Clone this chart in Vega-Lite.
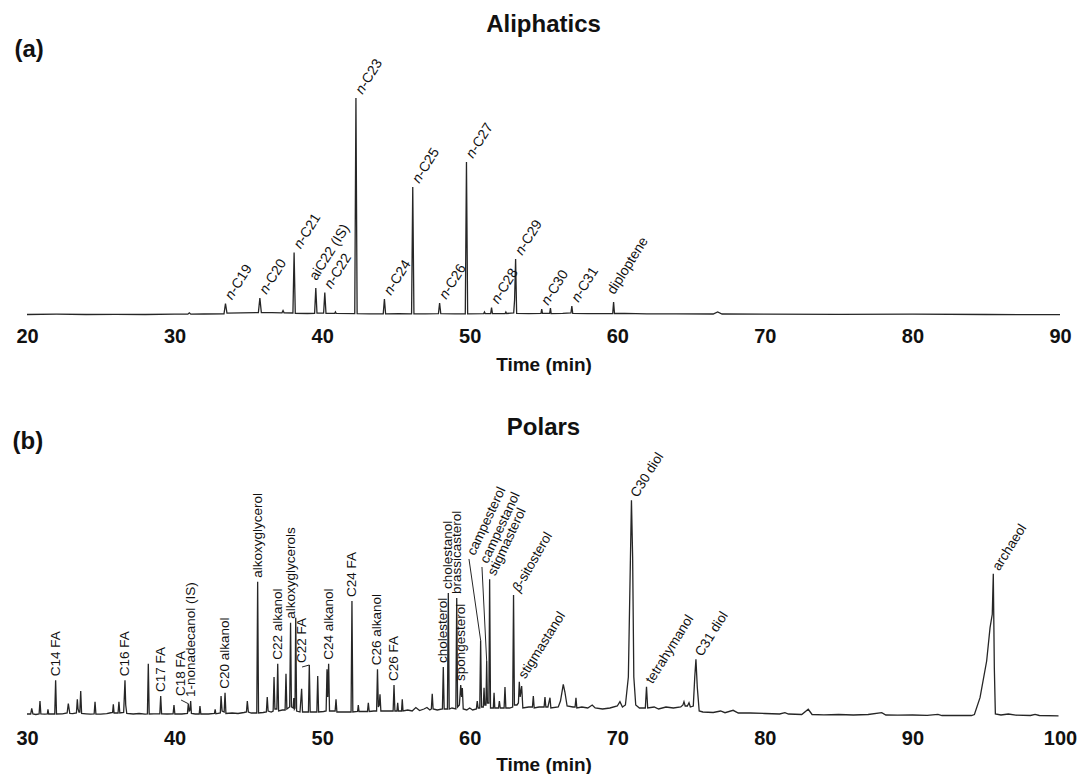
{
  "$schema": "https://vega.github.io/schema/vega-lite/v6.json",
  "background": "white",
  "padding": {"left": 12, "top": 13, "right": 0, "bottom": 0},
  "bounds": "flush",
  "spacing": 141,
  "config": {
    "view": {"stroke": null},
    "font": "Liberation Sans",
    "axis": {"labelColor": "#111", "titleColor": "#111", "grid": false}
  },
  "datasets": {
    "aliphaticTrace": [
      {"t": 20, "v": 1.5}, {"t": 22, "v": 1.8}, {"t": 24, "v": 1.5}, {"t": 26, "v": 1.7}, {"t": 28, "v": 1.5},
      {"t": 30, "v": 1.8}, {"t": 30.9, "v": 1.8}, {"t": 31.0, "v": 3.2}, {"t": 31.1, "v": 1.8}, {"t": 32, "v": 2},
      {"t": 33.35, "v": 2.2}, {"t": 33.45, "v": 12.5}, {"t": 33.55, "v": 2.8}, {"t": 34.5, "v": 3.2},
      {"t": 35.68, "v": 3.5}, {"t": 35.78, "v": 18}, {"t": 35.88, "v": 3.5}, {"t": 36.6, "v": 3.3},
      {"t": 37.28, "v": 3.2}, {"t": 37.35, "v": 5.5}, {"t": 37.42, "v": 3.2},
      {"t": 38.02, "v": 3}, {"t": 38.10, "v": 63.5}, {"t": 38.18, "v": 2.6}, {"t": 39.0, "v": 2.5},
      {"t": 39.49, "v": 2.6}, {"t": 39.57, "v": 28}, {"t": 39.65, "v": 2.8},
      {"t": 40.10, "v": 2.8}, {"t": 40.18, "v": 23.5}, {"t": 40.26, "v": 2.6},
      {"t": 40.85, "v": 2.6}, {"t": 40.9, "v": 4}, {"t": 40.95, "v": 2.6},
      {"t": 42.21, "v": 2.4}, {"t": 42.29, "v": 218}, {"t": 42.37, "v": 2.4}, {"t": 43.2, "v": 2.2},
      {"t": 44.14, "v": 2.2}, {"t": 44.22, "v": 17}, {"t": 44.30, "v": 2.2}, {"t": 45.2, "v": 2.4},
      {"t": 46.06, "v": 2.2}, {"t": 46.14, "v": 129}, {"t": 46.22, "v": 2.2}, {"t": 47.0, "v": 2.2},
      {"t": 47.88, "v": 2.3}, {"t": 47.96, "v": 13}, {"t": 48.04, "v": 2.3}, {"t": 49.0, "v": 2.2},
      {"t": 49.70, "v": 2.2}, {"t": 49.78, "v": 154}, {"t": 49.86, "v": 2.2},
      {"t": 50.95, "v": 2.4}, {"t": 51.0, "v": 4}, {"t": 51.05, "v": 2.4},
      {"t": 51.42, "v": 2.4}, {"t": 51.48, "v": 8.5}, {"t": 51.54, "v": 2.4},
      {"t": 52.4, "v": 2.5}, {"t": 52.45, "v": 4}, {"t": 52.5, "v": 2.5},
      {"t": 52.98, "v": 3}, {"t": 53.04, "v": 16}, {"t": 53.11, "v": 57}, {"t": 53.18, "v": 2.6}, {"t": 54.0, "v": 2.4},
      {"t": 54.83, "v": 2.6}, {"t": 54.88, "v": 7}, {"t": 54.93, "v": 2.6},
      {"t": 55.42, "v": 2.6}, {"t": 55.47, "v": 8}, {"t": 55.52, "v": 2.4}, {"t": 56.3, "v": 2.6},
      {"t": 56.86, "v": 3}, {"t": 56.92, "v": 10}, {"t": 56.98, "v": 2.6}, {"t": 58.0, "v": 2.4}, {"t": 59.0, "v": 2.4},
      {"t": 59.69, "v": 2.5}, {"t": 59.75, "v": 14}, {"t": 59.81, "v": 2.5}, {"t": 60.5, "v": 2.6},
      {"t": 62, "v": 2.2}, {"t": 64, "v": 2.1}, {"t": 66.5, "v": 2.0}, {"t": 66.8, "v": 4}, {"t": 67.1, "v": 2.0},
      {"t": 70, "v": 1.8}, {"t": 75, "v": 1.6}, {"t": 80, "v": 1.8}, {"t": 85, "v": 1.5}, {"t": 90, "v": 1.4}
    ],
    "aliphaticPeaks": [
      {"pre": "n", "name": "-C19", "t": 33.45, "v": 12.5},
      {"pre": "n", "name": "-C20", "t": 35.78, "v": 18},
      {"pre": "n", "name": "-C21", "t": 38.10, "v": 63.5},
      {"name": "aiC22 (IS)", "t": 39.57, "v": 28},
      {"pre": "n", "name": "-C22", "t": 40.18, "v": 23.5},
      {"pre": "n", "name": "-C23", "t": 42.29, "v": 218},
      {"pre": "n", "name": "-C24", "t": 44.22, "v": 17},
      {"pre": "n", "name": "-C25", "t": 46.14, "v": 129},
      {"pre": "n", "name": "-C26", "t": 47.96, "v": 13},
      {"pre": "n", "name": "-C27", "t": 49.78, "v": 154},
      {"pre": "n", "name": "-C28", "t": 51.48, "v": 8.5},
      {"pre": "n", "name": "-C29", "t": 53.11, "v": 57},
      {"pre": "n", "name": "-C30", "t": 54.88, "v": 7},
      {"pre": "n", "name": "-C31", "t": 56.92, "v": 10},
      {"name": "diploptene", "t": 59.75, "v": 14}
    ],
    "polarTrace": [
      {"t": 30.0, "v": 3}, {"t": 30.25, "v": 3}, {"t": 30.32, "v": 8.7}, {"t": 30.4, "v": 3}, {"t": 30.6, "v": 2.5},
      {"t": 30.82, "v": 3}, {"t": 30.88, "v": 16}, {"t": 30.94, "v": 3}, {"t": 31.2, "v": 2.8},
      {"t": 31.38, "v": 3}, {"t": 31.42, "v": 7.7}, {"t": 31.47, "v": 3}, {"t": 31.7, "v": 3.2},
      {"t": 31.88, "v": 3}, {"t": 31.94, "v": 36.7}, {"t": 32.0, "v": 3}, {"t": 32.4, "v": 3.2},
      {"t": 32.72, "v": 4}, {"t": 32.80, "v": 13.3}, {"t": 32.9, "v": 3.5}, {"t": 33.1, "v": 3.3},
      {"t": 33.35, "v": 4}, {"t": 33.41, "v": 17.7}, {"t": 33.46, "v": 8}, {"t": 33.52, "v": 5}, {"t": 33.58, "v": 5},
      {"t": 33.64, "v": 26}, {"t": 33.7, "v": 3.5}, {"t": 34.0, "v": 3.2}, {"t": 34.3, "v": 2.8},
      {"t": 34.55, "v": 3}, {"t": 34.61, "v": 15.3}, {"t": 34.67, "v": 3}, {"t": 35.0, "v": 2.8},
      {"t": 35.4, "v": 3.3}, {"t": 35.6, "v": 4}, {"t": 35.8, "v": 4.5}, {"t": 35.85, "v": 12.7}, {"t": 35.9, "v": 4},
      {"t": 36.17, "v": 4}, {"t": 36.23, "v": 15.3}, {"t": 36.29, "v": 4}, {"t": 36.55, "v": 4.5},
      {"t": 36.64, "v": 36.7}, {"t": 36.69, "v": 12}, {"t": 36.76, "v": 3.5}, {"t": 37.2, "v": 3},
      {"t": 37.6, "v": 3.5}, {"t": 38.0, "v": 2.8}, {"t": 38.16, "v": 3}, {"t": 38.22, "v": 53.3}, {"t": 38.28, "v": 3},
      {"t": 38.6, "v": 3.2}, {"t": 39.0, "v": 3.2}, {"t": 39.06, "v": 21}, {"t": 39.12, "v": 3.2},
      {"t": 39.5, "v": 3}, {"t": 39.9, "v": 3.2}, {"t": 39.96, "v": 12}, {"t": 40.02, "v": 3},
      {"t": 40.5, "v": 3}, {"t": 40.87, "v": 3.5}, {"t": 40.93, "v": 13.3}, {"t": 40.99, "v": 6}, {"t": 41.05, "v": 7},
      {"t": 41.09, "v": 16}, {"t": 41.14, "v": 3.5}, {"t": 41.4, "v": 3}, {"t": 41.67, "v": 3}, {"t": 41.72, "v": 11},
      {"t": 41.78, "v": 3}, {"t": 42.3, "v": 3}, {"t": 42.7, "v": 3.5}, {"t": 42.75, "v": 7.7}, {"t": 42.8, "v": 3.2},
      {"t": 43.1, "v": 4}, {"t": 43.15, "v": 21}, {"t": 43.22, "v": 6}, {"t": 43.36, "v": 5}, {"t": 43.42, "v": 24.3},
      {"t": 43.48, "v": 3.5}, {"t": 43.9, "v": 4}, {"t": 44.3, "v": 3.5}, {"t": 44.7, "v": 4.5}, {"t": 44.87, "v": 5},
      {"t": 44.93, "v": 16}, {"t": 45.0, "v": 5}, {"t": 45.2, "v": 4}, {"t": 45.57, "v": 4}, {"t": 45.63, "v": 135.3},
      {"t": 45.69, "v": 4}, {"t": 46.0, "v": 4.5}, {"t": 46.22, "v": 5}, {"t": 46.28, "v": 20}, {"t": 46.34, "v": 6},
      {"t": 46.55, "v": 5}, {"t": 46.68, "v": 6}, {"t": 46.74, "v": 40}, {"t": 46.8, "v": 8}, {"t": 46.93, "v": 8},
      {"t": 46.99, "v": 53.3}, {"t": 47.05, "v": 6}, {"t": 47.3, "v": 7}, {"t": 47.49, "v": 7}, {"t": 47.55, "v": 43.3},
      {"t": 47.61, "v": 8}, {"t": 47.8, "v": 10}, {"t": 47.86, "v": 94.3}, {"t": 47.92, "v": 10}, {"t": 48.03, "v": 9},
      {"t": 48.08, "v": 19}, {"t": 48.12, "v": 8}, {"t": 48.16, "v": 9}, {"t": 48.21, "v": 99.3}, {"t": 48.27, "v": 6},
      {"t": 48.5, "v": 5}, {"t": 48.61, "v": 28.3}, {"t": 48.67, "v": 5}, {"t": 49.0, "v": 5}, {"t": 49.07, "v": 5},
      {"t": 49.13, "v": 52}, {"t": 49.19, "v": 5}, {"t": 49.5, "v": 5}, {"t": 49.64, "v": 5}, {"t": 49.70, "v": 41},
      {"t": 49.76, "v": 5}, {"t": 50.1, "v": 5.5}, {"t": 50.27, "v": 6}, {"t": 50.33, "v": 47.7}, {"t": 50.38, "v": 20},
      {"t": 50.44, "v": 53.3}, {"t": 50.5, "v": 6}, {"t": 50.88, "v": 6}, {"t": 50.94, "v": 17.7}, {"t": 51.0, "v": 5},
      {"t": 51.5, "v": 5}, {"t": 51.96, "v": 5}, {"t": 52.02, "v": 116}, {"t": 52.08, "v": 5}, {"t": 52.4, "v": 5.5},
      {"t": 52.45, "v": 12}, {"t": 52.5, "v": 5.5}, {"t": 52.8, "v": 5.5}, {"t": 53.07, "v": 5.5}, {"t": 53.13, "v": 14.3},
      {"t": 53.19, "v": 5.5}, {"t": 53.5, "v": 6}, {"t": 53.69, "v": 6}, {"t": 53.75, "v": 47.7}, {"t": 53.81, "v": 10},
      {"t": 53.87, "v": 12}, {"t": 53.92, "v": 22.7}, {"t": 53.98, "v": 6}, {"t": 54.4, "v": 6}, {"t": 54.81, "v": 6},
      {"t": 54.87, "v": 32}, {"t": 54.93, "v": 6}, {"t": 55.07, "v": 6}, {"t": 55.12, "v": 14.3}, {"t": 55.17, "v": 6},
      {"t": 55.38, "v": 6}, {"t": 55.43, "v": 17.7}, {"t": 55.48, "v": 6}, {"t": 55.8, "v": 7}, {"t": 56.1, "v": 6},
      {"t": 56.35, "v": 9.5}, {"t": 56.6, "v": 6.5}, {"t": 56.9, "v": 8}, {"t": 57.1, "v": 9.5}, {"t": 57.3, "v": 7},
      {"t": 57.4, "v": 8}, {"t": 57.46, "v": 23.3}, {"t": 57.52, "v": 8}, {"t": 57.8, "v": 7}, {"t": 58.15, "v": 8},
      {"t": 58.21, "v": 50}, {"t": 58.27, "v": 8}, {"t": 58.49, "v": 8}, {"t": 58.55, "v": 124}, {"t": 58.61, "v": 8},
      {"t": 58.8, "v": 9}, {"t": 59.06, "v": 8}, {"t": 59.12, "v": 119}, {"t": 59.18, "v": 10}, {"t": 59.3, "v": 12},
      {"t": 59.39, "v": 32}, {"t": 59.45, "v": 20}, {"t": 59.5, "v": 29}, {"t": 59.56, "v": 8}, {"t": 59.8, "v": 7},
      {"t": 60.0, "v": 9}, {"t": 60.2, "v": 7}, {"t": 60.45, "v": 8}, {"t": 60.51, "v": 16}, {"t": 60.57, "v": 9},
      {"t": 60.68, "v": 9}, {"t": 60.74, "v": 76.7}, {"t": 60.8, "v": 10}, {"t": 60.92, "v": 10}, {"t": 60.97, "v": 29.3},
      {"t": 61.02, "v": 12}, {"t": 61.1, "v": 12}, {"t": 61.15, "v": 56}, {"t": 61.2, "v": 14}, {"t": 61.3, "v": 14},
      {"t": 61.35, "v": 137.7}, {"t": 61.41, "v": 9}, {"t": 61.6, "v": 9}, {"t": 61.65, "v": 24.3}, {"t": 61.7, "v": 9},
      {"t": 61.95, "v": 9}, {"t": 62.01, "v": 16}, {"t": 62.07, "v": 9}, {"t": 62.33, "v": 9}, {"t": 62.39, "v": 30},
      {"t": 62.45, "v": 9}, {"t": 62.7, "v": 9}, {"t": 62.91, "v": 10}, {"t": 62.97, "v": 122}, {"t": 63.03, "v": 12},
      {"t": 63.2, "v": 12}, {"t": 63.3, "v": 14}, {"t": 63.36, "v": 35.3}, {"t": 63.42, "v": 20}, {"t": 63.52, "v": 31},
      {"t": 63.6, "v": 9}, {"t": 64.0, "v": 10}, {"t": 64.25, "v": 10}, {"t": 64.31, "v": 21}, {"t": 64.37, "v": 9},
      {"t": 64.7, "v": 10}, {"t": 65.04, "v": 10}, {"t": 65.10, "v": 20}, {"t": 65.16, "v": 10}, {"t": 65.3, "v": 10},
      {"t": 65.44, "v": 19.3}, {"t": 65.5, "v": 9}, {"t": 66.0, "v": 10}, {"t": 66.15, "v": 16}, {"t": 66.34, "v": 32.7},
      {"t": 66.45, "v": 25}, {"t": 66.6, "v": 11}, {"t": 67.0, "v": 10}, {"t": 67.14, "v": 10}, {"t": 67.20, "v": 19.3},
      {"t": 67.26, "v": 9}, {"t": 67.6, "v": 10}, {"t": 68.0, "v": 9}, {"t": 68.3, "v": 12}, {"t": 68.5, "v": 9},
      {"t": 69.0, "v": 8}, {"t": 69.5, "v": 9}, {"t": 70.0, "v": 11}, {"t": 70.18, "v": 15.3}, {"t": 70.35, "v": 10},
      {"t": 70.55, "v": 12}, {"t": 70.75, "v": 40}, {"t": 70.88, "v": 150}, {"t": 70.96, "v": 216.7}, {"t": 71.04, "v": 160},
      {"t": 71.12, "v": 40}, {"t": 71.25, "v": 12}, {"t": 71.5, "v": 9}, {"t": 71.9, "v": 9}, {"t": 71.98, "v": 30.3},
      {"t": 72.06, "v": 9}, {"t": 72.5, "v": 10}, {"t": 72.8, "v": 8}, {"t": 73.3, "v": 10}, {"t": 73.8, "v": 9},
      {"t": 74.3, "v": 10}, {"t": 74.45, "v": 12}, {"t": 74.52, "v": 15.3}, {"t": 74.6, "v": 11}, {"t": 74.75, "v": 11},
      {"t": 74.86, "v": 14.3}, {"t": 74.95, "v": 10}, {"t": 75.15, "v": 11}, {"t": 75.25, "v": 40}, {"t": 75.33, "v": 57.7},
      {"t": 75.42, "v": 30}, {"t": 75.55, "v": 6}, {"t": 75.8, "v": 5}, {"t": 76.5, "v": 4.5}, {"t": 77.0, "v": 6},
      {"t": 77.3, "v": 4.3}, {"t": 77.85, "v": 6.7}, {"t": 78.2, "v": 4}, {"t": 79, "v": 4}, {"t": 80, "v": 3.5},
      {"t": 81, "v": 3}, {"t": 81.36, "v": 4.3}, {"t": 81.6, "v": 3}, {"t": 82.5, "v": 2.5}, {"t": 82.94, "v": 7.7},
      {"t": 83.2, "v": 2.5}, {"t": 84, "v": 2.2}, {"t": 85, "v": 2.5}, {"t": 86, "v": 2}, {"t": 87, "v": 2.5},
      {"t": 87.92, "v": 4.3}, {"t": 88.2, "v": 2}, {"t": 89, "v": 1.8}, {"t": 90, "v": 2}, {"t": 91, "v": 1.7},
      {"t": 91.73, "v": 2.7}, {"t": 92, "v": 1.5}, {"t": 93, "v": 1.7}, {"t": 94.0, "v": 1.5}, {"t": 94.2, "v": 2.5},
      {"t": 94.58, "v": 19.3}, {"t": 95.03, "v": 56}, {"t": 95.26, "v": 89.3}, {"t": 95.41, "v": 102.7}, {"t": 95.48, "v": 143.3},
      {"t": 95.55, "v": 49}, {"t": 95.62, "v": 3}, {"t": 96, "v": 2}, {"t": 96.5, "v": 3}, {"t": 97, "v": 1.8},
      {"t": 98, "v": 1.5}, {"t": 98.31, "v": 2.7}, {"t": 98.6, "v": 1.5}, {"t": 99.9, "v": 1.2}
    ],
    "polarPeaks": [
      {"name": "C14 FA", "t": 31.94, "v": 36.7, "lt": 31.94, "lh": 36.7},
      {"name": "C16 FA", "t": 36.64, "v": 36.7, "lt": 36.64, "lh": 36.7},
      {"name": "C17 FA", "t": 39.06, "v": 21, "lt": 39.06, "lh": 21},
      {"name": "C18 FA", "t": 40.93, "v": 13.3, "lt": 40.44, "lh": 17},
      {"name": "1-nonadecanol (IS)", "t": 41.09, "v": 16, "lt": 41.09, "lh": 16},
      {"name": "C20 alkanol", "t": 43.42, "v": 24.3, "lt": 43.42, "lh": 24.3},
      {"name": "alkoxyglycerol", "t": 45.63, "v": 135.3, "lt": 45.63, "lh": 135.3},
      {"name": "C22 alkanol", "t": 46.99, "v": 53.3, "lt": 46.99, "lh": 53.3},
      {"name": "alkoxyglycerols", "t": 47.86, "v": 94.3, "lt": 47.86, "lh": 94.3},
      {"name": "C22 FA", "t": 49.13, "v": 52, "lt": 48.64, "lh": 50},
      {"name": "C24 alkanol", "t": 50.44, "v": 53.3, "lt": 50.44, "lh": 53.3},
      {"name": "C24 FA", "t": 52.02, "v": 116, "lt": 52.02, "lh": 116},
      {"name": "C26 alkanol", "t": 53.75, "v": 47.7, "lt": 53.75, "lh": 47.7},
      {"name": "C26 FA", "t": 54.87, "v": 32, "lt": 54.87, "lh": 32},
      {"name": "cholesterol", "t": 58.21, "v": 50, "lt": 58.21, "lh": 50},
      {"name": "cholestanol", "t": 58.55, "v": 124, "lt": 58.55, "lh": 124},
      {"name": "brassicasterol", "t": 59.12, "v": 119, "lt": 59.12, "lh": 119},
      {"name": "spongesterol", "t": 59.39, "v": 32, "lt": 59.39, "lh": 32},
      {"name": "campesterol", "t": 60.74, "v": 76.7, "lt": 59.95, "lh": 158},
      {"name": "campestanol", "t": 61.15, "v": 56, "lt": 60.83, "lh": 150},
      {"name": "stigmasterol", "t": 61.35, "v": 137.7, "lt": 61.35, "lh": 137.7},
      {"pre": "β", "name": "-sitosterol", "t": 62.97, "v": 122, "lt": 62.97, "lh": 122},
      {"name": "stigmastanol", "t": 63.36, "v": 35.3, "lt": 63.36, "lh": 35.3},
      {"name": "C30 diol", "t": 70.96, "v": 216.7, "lt": 70.96, "lh": 216.7},
      {"name": "tetrahymanol", "t": 71.98, "v": 30.3, "lt": 71.98, "lh": 30.3},
      {"name": "C31 diol", "t": 75.33, "v": 57.7, "lt": 75.33, "lh": 57.7},
      {"name": "archaeol", "t": 95.48, "v": 143.3, "lt": 95.48, "lh": 143.3}
    ]
  },
  "vconcat": [
    {
      "width": 1033,
      "height": 275,
      "title": {"text": "Aliphatics", "fontSize": 24, "fontWeight": "bold", "color": "#111", "anchor": "middle", "frame": "group", "baseline": "middle", "offset": -12},
      "layer": [
        {
          "data": {"name": "aliphaticTrace"},
          "mark": {"type": "line", "color": "#262626", "strokeWidth": 1.3, "interpolate": "linear"},
          "encoding": {
            "x": {"field": "t", "type": "quantitative", "scale": {"domain": [20, 90], "nice": false, "zero": false},
              "axis": {"title": "Time (min)", "values": [20, 30, 40, 50, 60, 70, 80, 90], "domain": false, "ticks": false, "tickSize": 0,
                "labelFontSize": 20, "labelFontWeight": "bold", "labelPadding": 20, "labelBaseline": "middle", "labelFlush": false,
                "titleFontSize": 19, "titleFontWeight": "bold", "titleY": 48, "titleBaseline": "middle"}},
            "y": {"field": "v", "type": "quantitative", "scale": {"domain": [0, 275], "nice": false},
              "axis": {"title": "(a)", "domain": false, "ticks": false, "labels": false, "titleAngle": 0, "titleAlign": "left",
                "titleBaseline": "middle", "titleX": -13, "titleY": 8, "titleFontSize": 24, "titleFontWeight": "bold"}}
          }
        },
        {
          "data": {"name": "aliphaticPeaks"},
          "transform": [{"filter": "datum.pre"}],
          "mark": {"type": "text", "angle": -58, "align": "left", "baseline": "middle", "dx": 6, "fontSize": 14, "fontStyle": "italic", "color": "#111"},
          "encoding": {"x": {"field": "t", "type": "quantitative"}, "y": {"field": "v", "type": "quantitative"}, "text": {"field": "pre"}}
        },
        {
          "data": {"name": "aliphaticPeaks"},
          "transform": [{"filter": "datum.pre"}],
          "mark": {"type": "text", "angle": -58, "align": "left", "baseline": "middle", "dx": 13.8, "fontSize": 14, "color": "#111"},
          "encoding": {"x": {"field": "t", "type": "quantitative"}, "y": {"field": "v", "type": "quantitative"}, "text": {"field": "name"}}
        },
        {
          "data": {"name": "aliphaticPeaks"},
          "transform": [{"filter": "!datum.pre"}],
          "mark": {"type": "text", "angle": -58, "align": "left", "baseline": "bottom", "dx": 6, "fontSize": 14, "color": "#111"},
          "encoding": {"x": {"field": "t", "type": "quantitative"}, "y": {"field": "v", "type": "quantitative"}, "text": {"field": "name"}}
        }
      ]
    },
    {
      "width": 1033,
      "height": 260,
      "title": {"text": "Polars", "fontSize": 24, "fontWeight": "bold", "color": "#111", "anchor": "middle", "frame": "group", "baseline": "middle", "offset": -23},
      "layer": [
        {
          "data": {"name": "polarTrace"},
          "mark": {"type": "line", "color": "#262626", "strokeWidth": 1.3, "interpolate": "linear"},
          "encoding": {
            "x": {"field": "t", "type": "quantitative", "scale": {"domain": [30, 100], "nice": false, "zero": false},
              "axis": {"title": "Time (min)", "values": [30, 40, 50, 60, 70, 80, 90, 100], "domain": false, "ticks": false, "tickSize": 0,
                "labelFontSize": 20, "labelFontWeight": "bold", "labelPadding": 21, "labelBaseline": "middle", "labelFlush": false,
                "titleFontSize": 19, "titleFontWeight": "bold", "titleY": 47, "titleBaseline": "middle"}},
            "y": {"field": "v", "type": "quantitative", "scale": {"domain": [0, 260], "nice": false},
              "axis": {"title": "(b)", "domain": false, "ticks": false, "labels": false, "titleAngle": 0, "titleAlign": "left",
                "titleBaseline": "middle", "titleX": -15, "titleY": -16, "titleFontSize": 24, "titleFontWeight": "bold"}}
          }
        },
        {
          "data": {"name": "polarPeaks"},
          "mark": {"type": "rule", "color": "#262626", "strokeWidth": 1, "strokeCap": "butt"},
          "encoding": {"x": {"field": "t", "type": "quantitative"}, "y": {"field": "v", "type": "quantitative"},
            "x2": {"field": "lt"}, "y2": {"field": "lh"}}
        },
        {
          "data": {"name": "polarPeaks"},
          "transform": [{"filter": "datum.t < 60"}],
          "mark": {"type": "text", "angle": -90, "align": "left", "baseline": "middle", "dx": 4, "fontSize": 13.5, "color": "#111"},
          "encoding": {"x": {"field": "lt", "type": "quantitative"}, "y": {"field": "lh", "type": "quantitative"}, "text": {"field": "name"}}
        },
        {
          "data": {"name": "polarPeaks"},
          "transform": [{"filter": "datum.t >= 60 && datum.t < 62"}],
          "mark": {"type": "text", "angle": -65, "align": "left", "baseline": "middle", "dx": 5, "fontSize": 13.5, "color": "#111"},
          "encoding": {"x": {"field": "lt", "type": "quantitative"}, "y": {"field": "lh", "type": "quantitative"}, "text": {"field": "name"}}
        },
        {
          "data": {"name": "polarPeaks"},
          "transform": [{"filter": "datum.t >= 62 && !datum.pre"}],
          "mark": {"type": "text", "angle": -58, "align": "left", "baseline": "middle", "dx": 5, "fontSize": 13.5, "color": "#111"},
          "encoding": {"x": {"field": "lt", "type": "quantitative"}, "y": {"field": "lh", "type": "quantitative"}, "text": {"field": "name"}}
        },
        {
          "data": {"name": "polarPeaks"},
          "transform": [{"filter": "datum.pre"}],
          "mark": {"type": "text", "angle": -60, "align": "left", "baseline": "middle", "dx": 5, "fontSize": 13.5, "fontStyle": "italic", "color": "#111"},
          "encoding": {"x": {"field": "lt", "type": "quantitative"}, "y": {"field": "lh", "type": "quantitative"}, "text": {"field": "pre"}}
        },
        {
          "data": {"name": "polarPeaks"},
          "transform": [{"filter": "datum.pre"}],
          "mark": {"type": "text", "angle": -60, "align": "left", "baseline": "middle", "dx": 12.7, "fontSize": 13.5, "color": "#111"},
          "encoding": {"x": {"field": "lt", "type": "quantitative"}, "y": {"field": "lh", "type": "quantitative"}, "text": {"field": "name"}}
        }
      ]
    }
  ]
}
